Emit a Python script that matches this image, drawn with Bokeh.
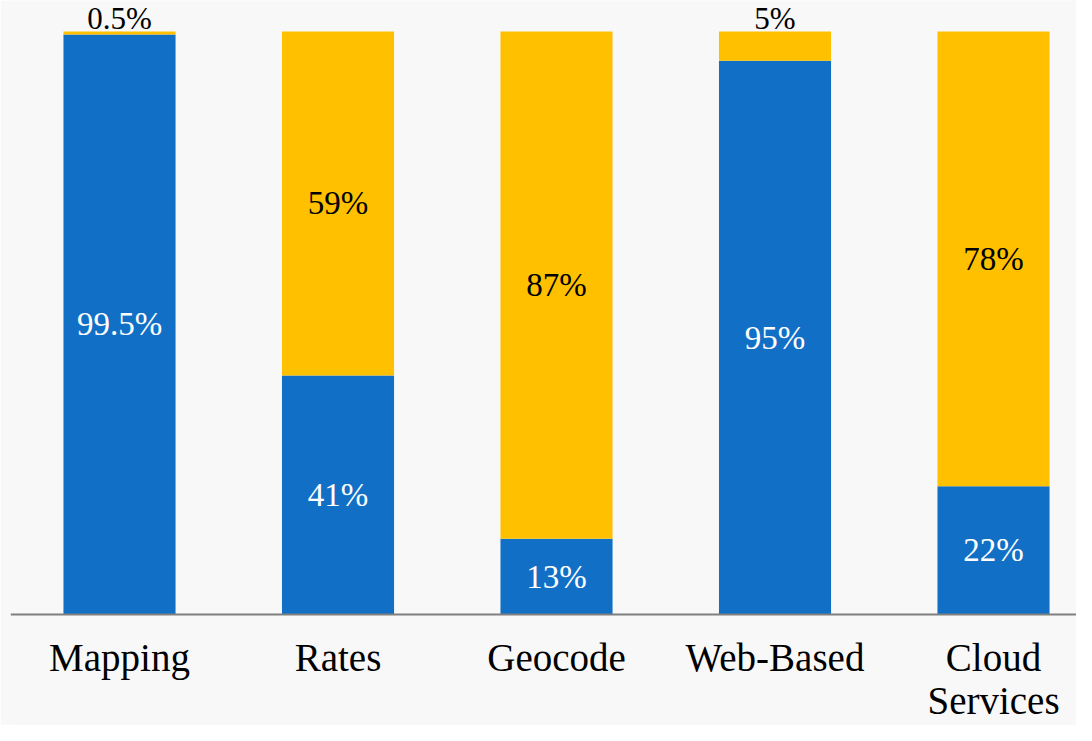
from bokeh.plotting import figure
from bokeh.models import ColumnDataSource, Range1d, Span
from bokeh.core.properties import value
from bokeh.embed import file_html
from bokeh.resources import INLINE

categories = ["Mapping", "Rates", "Geocode", "Web-Based", "Cloud\nServices"]
yes_values = [99.5, 41, 13, 95, 22]
no_values = [0.5, 59, 87, 5, 78]
yes_labels = ["99.5%", "41%", "13%", "95%", "22%"]
no_labels = ["0.5%", "59%", "87%", "5%", "78%"]

BLUE = "#1170C6"
YELLOW = "#FFC000"
FONT = "Liberation Serif"

xs = list(range(len(categories)))
src = ColumnDataSource(dict(x=xs, yes=yes_values, no=no_values))

p = figure(width=1076, height=725, output_backend="svg", toolbar_location=None,
           x_range=Range1d(-0.4989, 4.3798), y_range=Range1d(-19.04, 105.32),
           min_border_left=10, min_border_right=0, min_border_top=0, min_border_bottom=0)
p.background_fill_color = "#F8F8F8"
p.border_fill_color = "#F8F8F8"
p.outline_line_color = None
p.axis.visible = False
p.grid.visible = False

p.vbar_stack(["yes", "no"], x="x", width=0.513, color=[BLUE, YELLOW], line_color=None, source=src)

# category axis line
p.add_layout(Span(location=0, dimension="width", line_color="#7F7F7F", line_width=2))

# labels inside/above segments
in_x, in_y, in_t, in_c = [], [], [], []
top_x, top_y, top_t = [], [], []
for i in range(len(categories)):
    in_x.append(xs[i]); in_y.append(yes_values[i] / 2); in_t.append(yes_labels[i]); in_c.append("white")
    if no_values[i] >= 10:
        in_x.append(xs[i]); in_y.append(yes_values[i] + no_values[i] / 2); in_t.append(no_labels[i]); in_c.append("black")
    else:
        top_x.append(xs[i]); top_y.append(yes_values[i] + no_values[i]); top_t.append(no_labels[i])

p.text(x=in_x, y=in_y, text=in_t, text_color=in_c, text_align="center", text_baseline="middle",
       text_font=value(FONT), text_font_size="33px")
p.text(x=top_x, y=top_y, text=top_t, text_color="black", text_align="center",
       text_baseline="alphabetic", y_offset=-13, text_font=value(FONT), text_font_size="31px")

# category labels below the axis line
p.text(x=xs, y=[0] * len(xs), text=categories, text_color="black", text_align="center",
       text_baseline="top", y_offset=22, text_line_height=1.0,
       text_font=value(FONT), text_font_size="39px")

open("out.html", "w").write(file_html(p, INLINE))
